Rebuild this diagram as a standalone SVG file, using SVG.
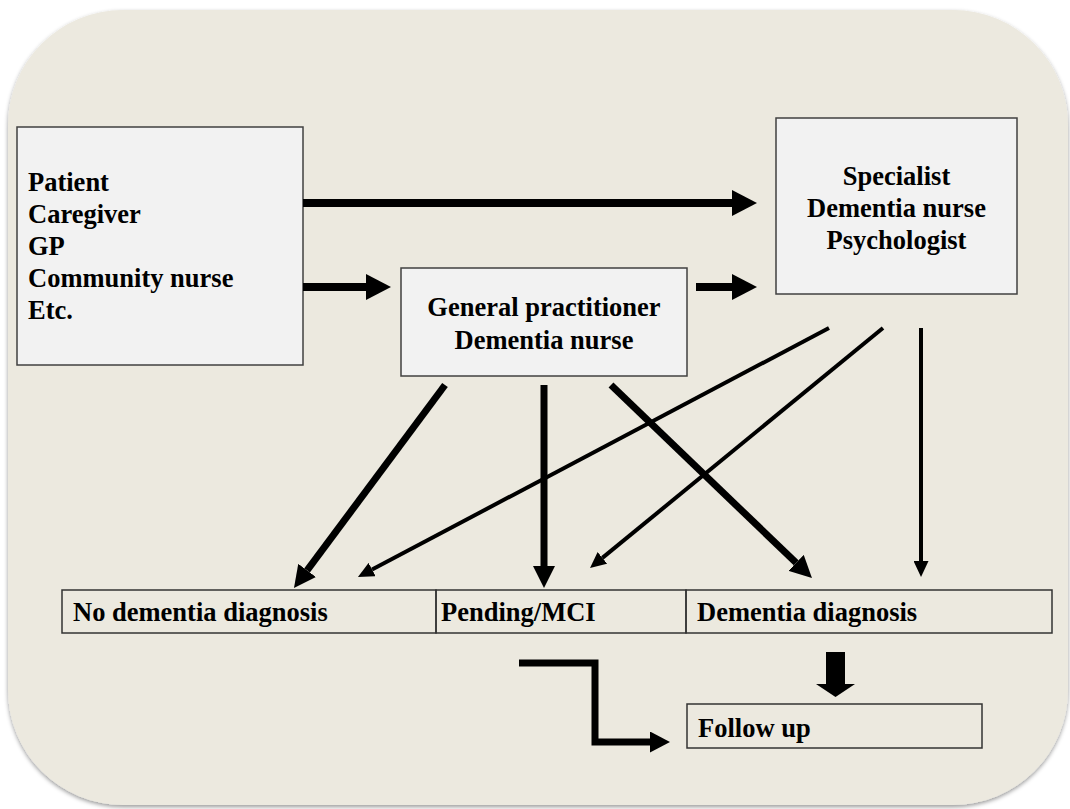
<svg xmlns="http://www.w3.org/2000/svg" width="1070" height="809" viewBox="0 0 1070 809">
  <defs>
    <filter id="shadow" x="-5%" y="-5%" width="110%" height="110%">
      <feDropShadow dx="0" dy="2" stdDeviation="2" flood-color="#000" flood-opacity="0.4"/>
    </filter>
    <marker id="hBig" markerUnits="userSpaceOnUse" markerWidth="26" markerHeight="26" refX="0" refY="13" orient="auto">
      <path d="M0,0 L25,13 L0,26 z" fill="#000"/>
    </marker>
    <marker id="hMed" markerUnits="userSpaceOnUse" markerWidth="22" markerHeight="22" refX="0" refY="11" orient="auto">
      <path d="M0,0 L22,11 L0,22 z" fill="#000"/>
    </marker>
    <marker id="hThin" markerUnits="userSpaceOnUse" markerWidth="16" markerHeight="15" refX="0" refY="7.5" orient="auto">
      <path d="M0,0 L16,7.5 L0,15 z" fill="#000"/>
    </marker>
    <marker id="hElbow" markerUnits="userSpaceOnUse" markerWidth="20" markerHeight="21" refX="0" refY="10.5" orient="auto">
      <path d="M0,0 L20,10.5 L0,21 z" fill="#000"/>
    </marker>
  </defs>
  <style>
    .lbl { font-family: "Liberation Serif", "Times New Roman", serif; font-weight: bold; font-size: 26.5px; fill: #000; }
    .mid { text-anchor: middle; }
    .box { fill: #F2F2F2; stroke: #404040; stroke-width: 1.5; }
    .cell { fill: none; stroke: #333; stroke-width: 1.5; }
    .thick { stroke: #000; stroke-width: 8; fill: none; }
    .med { stroke: #000; stroke-width: 7; fill: none; }
    .thin { stroke: #000; stroke-width: 4; fill: none; }
  </style>

  <g id="background">
    <rect x="8" y="10" width="1060" height="795" rx="115" ry="115" fill="#ECE9DF" filter="url(#shadow)"/>
  </g>

  <g id="node-referrers">
    <rect class="box" x="17" y="127" width="286" height="238"/>
    <text class="lbl" x="28" y="191">Patient</text>
    <text class="lbl" x="28" y="223">Caregiver</text>
    <text class="lbl" x="28" y="255">GP</text>
    <text class="lbl" x="28" y="287">Community nurse</text>
    <text class="lbl" x="28" y="319">Etc.</text>
  </g>

  <g id="node-gp">
    <rect class="box" x="401" y="268" width="286" height="108"/>
    <text class="lbl mid" x="544" y="316">General practitioner</text>
    <text class="lbl mid" x="544" y="349">Dementia nurse</text>
  </g>

  <g id="node-specialist">
    <rect class="box" x="776" y="118" width="241" height="176"/>
    <text class="lbl mid" x="896.5" y="185">Specialist</text>
    <text class="lbl mid" x="896.5" y="217">Dementia nurse</text>
    <text class="lbl mid" x="896.5" y="249">Psychologist</text>
  </g>

  <g id="node-no-dementia">
    <rect class="cell" x="62" y="590" width="374" height="43"/>
    <text class="lbl" x="73" y="621">No dementia diagnosis</text>
  </g>

  <g id="node-pending">
    <rect class="cell" x="436" y="590" width="250" height="43"/>
    <text class="lbl" x="441" y="621">Pending/MCI</text>
  </g>

  <g id="node-dementia">
    <rect class="cell" x="686" y="590" width="366" height="43"/>
    <text class="lbl" x="697" y="621">Dementia diagnosis</text>
  </g>

  <g id="node-followup">
    <rect class="cell" x="687" y="704" width="295" height="44"/>
    <text class="lbl" x="698" y="737">Follow up</text>
  </g>

  <g id="connectors">
    <line class="thick" x1="303" y1="203" x2="732" y2="203" marker-end="url(#hBig)"/>
    <line class="thick" x1="303" y1="287" x2="366" y2="287" marker-end="url(#hBig)"/>
    <line class="thick" x1="696" y1="287" x2="732" y2="287" marker-end="url(#hBig)"/>

    <line class="med" x1="445" y1="385" x2="307.1" y2="570.4" marker-end="url(#hMed)"/>
    <line class="med" x1="544" y1="385" x2="544" y2="566" marker-end="url(#hMed)"/>
    <line class="med" x1="611" y1="385" x2="796.1" y2="562.8" marker-end="url(#hMed)"/>

    <line class="thin" x1="829" y1="328" x2="372.1" y2="569.5" marker-end="url(#hThin)"/>
    <line class="thin" x1="883" y1="328" x2="602.4" y2="557.9" marker-end="url(#hThin)"/>
    <line class="thin" x1="921" y1="328" x2="921" y2="561" marker-end="url(#hThin)"/>

    <polygon points="826,652 845,652 845,684 855,684 835.5,697 816,684 826,684" fill="#000"/>
    <polyline class="med" points="519,663 595,663 595,742 650,742" stroke-linejoin="miter" marker-end="url(#hElbow)"/>
  </g>
</svg>
